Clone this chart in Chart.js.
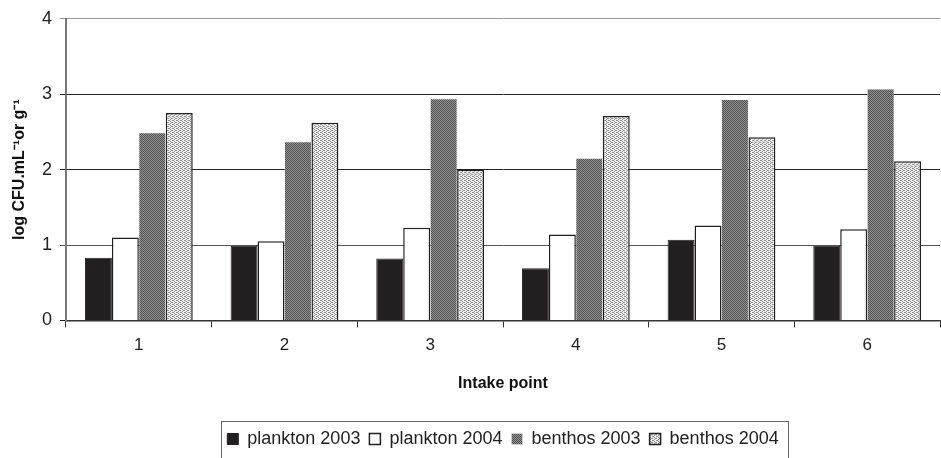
<!DOCTYPE html>
<html>
<head>
<meta charset="utf-8">
<script src="https://cdn.jsdelivr.net/npm/chart.js@4.4.0/dist/chart.umd.min.js"></script>
<style>
  html, body { margin: 0; padding: 0; background: #fff; }
  #wrap { width: 941px; height: 458px; }
</style>
</head>
<body>
<div id="wrap"><canvas id="myChart" width="941" height="458"></canvas></div>
<script>
// intake points along the x axis
var intakePoints = ['1', '2', '3', '4', '5', '6'];
var plankton2003 = [0.83, 0.99, 0.82, 0.69, 1.07, 0.99];
var plankton2004 = [1.10, 1.05, 1.23, 1.14, 1.26, 1.21];
var benthos2003 = [2.49, 2.37, 2.94, 2.15, 2.93, 3.07];
var benthos2004 = [2.75, 2.62, 2.00, 2.71, 2.43, 2.11];
var yTicks = [0, 1, 2, 3, 4];

var FONT = '"Liberation Sans", Arial, sans-serif';

// small tiled fills like the old excel patterns
function makePattern(base, dot, cells) {
    var c = document.createElement('canvas');
    c.width = 4;
    c.height = 4;
    var g = c.getContext('2d');
    g.fillStyle = base;
    g.fillRect(0, 0, 4, 4);
    g.fillStyle = dot;
    cells.forEach(function (p) { g.fillRect(p[0], p[1], 1, 1); });
    return g.createPattern(c, 'repeat');
}

var darkHatch = makePattern('#939393', '#505050', [[0, 0], [1, 1], [2, 2], [3, 3], [2, 0], [3, 1], [0, 2], [1, 3]]);
var lightDots = makePattern('#f2f2f2', '#8a8a8a', [[0, 0], [2, 1], [0, 2], [2, 3], [1, 0], [3, 2]]);

// frame round the legend, as in the original (runs off the bottom edge)
var legendBox = {
    id: 'legendBox',
    afterDraw: function (chart) {
        var items = chart.legend.legendHitBoxes;
        if (!items || !items.length) return;
        var x0 = items[0].left - 6;
        var last = items[items.length - 1];
        var x1 = last.left + last.width + 10;
        var y0 = items[0].top - 9;
        var ctx = chart.ctx;
        ctx.save();
        ctx.strokeStyle = '#666';
        ctx.lineWidth = 1;
        ctx.strokeRect(Math.round(x0) + 0.5, Math.round(y0) + 0.5, Math.round(x1 - x0), 60);
        ctx.restore();
    }
};

var ctx = document.getElementById('myChart').getContext('2d');
var myChart = new Chart(ctx, {
    type: 'bar',
    data: {
        labels: intakePoints,
        datasets: [
            { label: 'plankton 2003', data: plankton2003, backgroundColor: '#231f20', borderColor: '#231f20', borderWidth: 1 },
            { label: 'plankton 2004', data: plankton2004, backgroundColor: '#ffffff', borderColor: '#231f20', borderWidth: 1.5 },
            { label: 'benthos 2003', data: benthos2003, backgroundColor: darkHatch, borderColor: '#e0e0e0', borderWidth: 0.5 },
            { label: 'benthos 2004', data: benthos2004, backgroundColor: lightDots, borderColor: '#231f20', borderWidth: 1.5 }
        ]
    },
    options: {
        responsive: false,
        animation: false,
        devicePixelRatio: 1,
        categoryPercentage: 0.74,
        barPercentage: 1.0,
        layout: { padding: { top: 8, right: 1, left: 0, bottom: 0 } },
        plugins: {
            legend: {
                position: 'bottom',
                fullSize: false,
                labels: {
                    font: { family: FONT, size: 18 },
                    color: '#222',
                    boxWidth: 11,
                    boxHeight: 11,
                    padding: 9
                }
            },
            tooltip: { enabled: false }
        },
        scales: {
            x: {
                grid: { offset: true, drawOnChartArea: false, color: '#333', tickLength: 7 },
                border: { color: '#333', width: 1.5 },
                ticks: { font: { family: FONT, size: 17 }, color: '#222', padding: 8 },
                title: { display: true, text: 'Intake point', font: { family: FONT, size: 16, weight: 'bold' }, color: '#111', padding: { top: 10, bottom: 28 } }
            },
            y: {
                min: 0,
                max: 4,
                afterBuildTicks: function (scale) {
                    scale.ticks = yTicks.map(function (v) { return { value: v }; });
                },
                afterFit: function (scale) { scale.width = 66; },
                grid: {
                    color: function (c) { return c.tick && c.tick.value === 4 ? '#999' : (c.tick && c.tick.value === 1 ? '#555' : '#222'); },
                    lineWidth: 1,
                    tickLength: 6
                },
                border: { color: '#777', width: 2 },
                ticks: { font: { family: FONT, size: 18 }, color: '#222', padding: 8 },
                title: { display: true, text: 'log CFU.mL\u207B\u00B9or g\u207B\u00B9', font: { family: FONT, size: 16, weight: 'bold' }, color: '#111', padding: { top: 10, bottom: 0 } }
            }
        }
    },
    plugins: [legendBox]
});
</script>
</body>
</html>
